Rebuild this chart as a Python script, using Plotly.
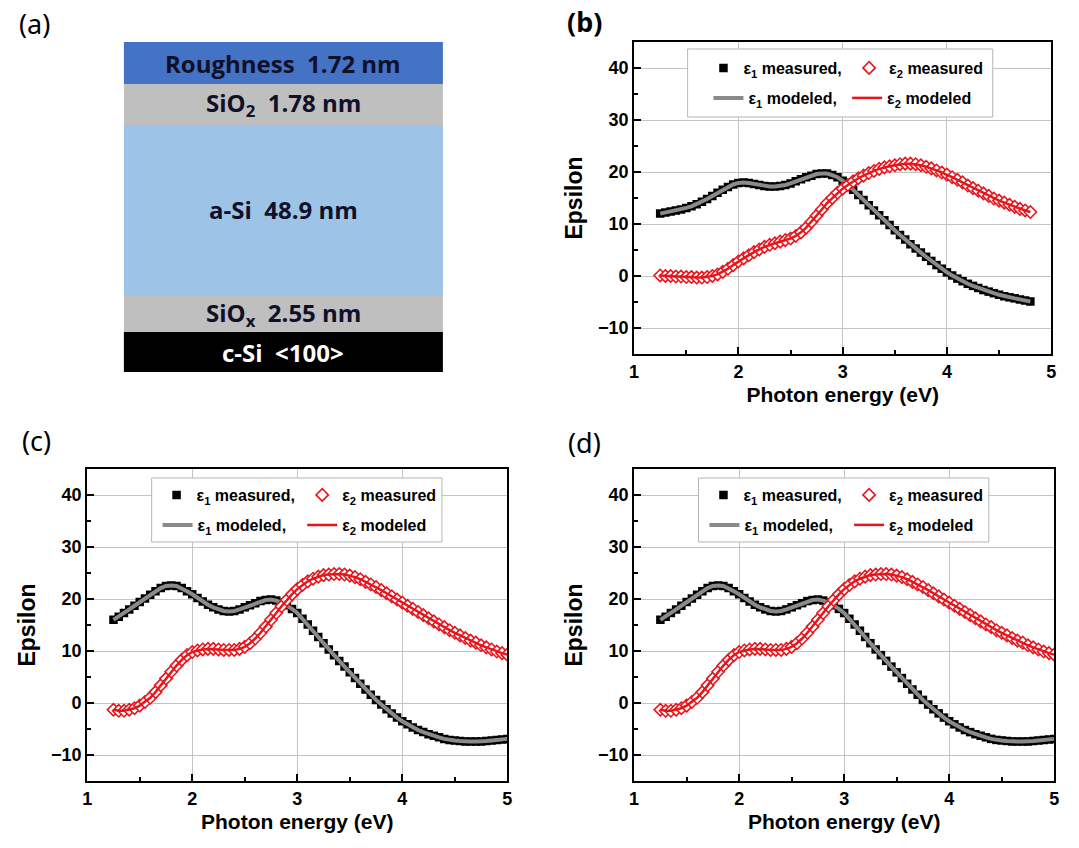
import plotly.graph_objects as go

# ---------------- data ----------------
energy_b = [1.25, 1.30, 1.35, 1.40, 1.45, 1.50, 1.55, 1.60, 1.65, 1.70,
            1.75, 1.80, 1.85, 1.90, 1.95, 2.00, 2.05, 2.10, 2.15, 2.20,
            2.25, 2.30, 2.35, 2.40, 2.45, 2.50, 2.55, 2.60, 2.65, 2.70,
            2.75, 2.80, 2.85, 2.90, 2.95, 3.00, 3.05, 3.10, 3.15, 3.20,
            3.25, 3.30, 3.35, 3.40, 3.45, 3.50, 3.55, 3.60, 3.65, 3.70,
            3.75, 3.80, 3.85, 3.90, 3.95, 4.00, 4.05, 4.10, 4.15, 4.20,
            4.25, 4.30, 4.35, 4.40, 4.45, 4.50, 4.55, 4.60, 4.65, 4.70,
            4.75, 4.80]
eps1_b = [12.0, 12.2, 12.4, 12.6, 12.8, 13.1, 13.4, 13.8, 14.3, 14.8,
          15.4, 16.0, 16.6, 17.1, 17.6, 17.9, 18.0, 17.9, 17.7, 17.5,
          17.3, 17.2, 17.2, 17.3, 17.5, 17.8, 18.2, 18.6, 19.0, 19.3,
          19.6, 19.7, 19.7, 19.4, 19.0, 18.3, 17.5, 16.6, 15.6, 14.6,
          13.6, 12.6, 11.7, 10.7, 9.8, 8.8, 7.9, 7.0, 6.1, 5.3,
          4.5, 3.7, 2.9, 2.1, 1.4, 0.7, 0.1, -0.5, -1.0, -1.5,
          -1.9, -2.3, -2.7, -3.0, -3.3, -3.6, -3.9, -4.1, -4.3, -4.5,
          -4.7, -4.9]
eps2_b = [0.1, 0.0, 0.0, -0.1, -0.1, -0.2, -0.2, -0.3, -0.3, -0.2,
          0.0, 0.3, 0.8, 1.4, 2.1, 2.8, 3.4, 4.0, 4.6, 5.1,
          5.6, 6.0, 6.3, 6.6, 6.9, 7.2, 7.7, 8.4, 9.3, 10.4,
          11.6, 12.8, 14.0, 15.0, 16.0, 16.8, 17.5, 18.2, 18.8, 19.3,
          19.8, 20.2, 20.6, 20.9, 21.1, 21.3, 21.5, 21.6, 21.6, 21.5,
          21.3, 21.0, 20.7, 20.3, 19.9, 19.5, 19.0, 18.5, 18.0, 17.4,
          16.9, 16.4, 15.9, 15.4, 14.9, 14.5, 14.1, 13.7, 13.3, 12.9,
          12.6, 12.3]

energy_c = [1.25, 1.30, 1.35, 1.40, 1.45, 1.50, 1.55, 1.60, 1.65, 1.70,
            1.75, 1.80, 1.85, 1.90, 1.95, 2.00, 2.05, 2.10, 2.15, 2.20,
            2.25, 2.30, 2.35, 2.40, 2.45, 2.50, 2.55, 2.60, 2.65, 2.70,
            2.75, 2.80, 2.85, 2.90, 2.95, 3.00, 3.05, 3.10, 3.15, 3.20,
            3.25, 3.30, 3.35, 3.40, 3.45, 3.50, 3.55, 3.60, 3.65, 3.70,
            3.75, 3.80, 3.85, 3.90, 3.95, 4.00, 4.05, 4.10, 4.15, 4.20,
            4.25, 4.30, 4.35, 4.40, 4.45, 4.50, 4.55, 4.60, 4.65, 4.70,
            4.75, 4.80, 4.85, 4.90, 4.95, 5.00]
eps1_c = [16.0, 16.6, 17.3, 18.0, 18.7, 19.4, 20.1, 20.8, 21.5, 22.1,
          22.5, 22.6, 22.5, 22.1, 21.5, 20.9, 20.2, 19.5, 18.9, 18.4,
          18.0, 17.7, 17.6, 17.7, 18.0, 18.4, 18.8, 19.2, 19.6, 19.8,
          19.9, 19.7, 19.3, 18.8, 18.1, 17.3, 16.2, 15.1, 13.9, 12.7,
          11.5, 10.3, 9.2, 8.1, 7.0, 5.9, 4.8, 3.7, 2.6, 1.6,
          0.6, -0.3, -1.2, -2.0, -2.8, -3.5, -4.1, -4.7, -5.2, -5.6,
          -6.0, -6.3, -6.6, -6.9, -7.1, -7.2, -7.3, -7.4, -7.4, -7.4,
          -7.4, -7.3, -7.2, -7.1, -7.0, -6.9]
eps2_c = [-1.3, -1.5, -1.5, -1.3, -1.0, -0.5, 0.2, 1.0, 2.1, 3.4,
          4.7, 6.0, 7.2, 8.3, 9.2, 9.8, 10.1, 10.3, 10.4, 10.4,
          10.3, 10.2, 10.2, 10.2, 10.4, 10.8, 11.5, 12.4, 13.5, 14.7,
          16.0, 17.3, 18.6, 19.8, 20.9, 21.9, 22.7, 23.4, 23.9, 24.3,
          24.6, 24.7, 24.8, 24.8, 24.7, 24.5, 24.2, 23.8, 23.3, 22.8,
          22.3, 21.7, 21.1, 20.5, 19.9, 19.3, 18.7, 18.1, 17.5, 16.9,
          16.3, 15.7, 15.1, 14.6, 14.0, 13.5, 13.0, 12.5, 12.0, 11.6,
          11.1, 10.7, 10.3, 9.9, 9.6, 9.3]

# panel (d) shows the same spectra as panel (c)
energy_d = list(energy_c)
eps1_d = list(eps1_c)
eps2_d = list(eps2_c)

layer_labels = ["Roughness  1.72 nm", "SiO<sub>2</sub>  1.78 nm", "a-Si  48.9 nm",
                "SiO<sub>x</sub>  2.55 nm", "c-Si  &lt;100&gt;"]
layer_colors = ["#4472C4", "#BFBFBF", "#9DC3E6", "#BFBFBF", "#000000"]
layer_text_colors = ["#101028", "#101028", "#101028", "#101028", "#FFFFFF"]

x_ticks = [1, 2, 3, 4, 5]
y_ticks = [-10, 0, 10, 20, 30, 40]

legend_names = ["<b>ε<sub>1</sub> measured,</b>", "<b>ε<sub>1</sub> modeled,</b>",
                "<b>ε<sub>2</sub> measured</b>", "<b>ε<sub>2</sub> modeled</b>"]

# ---------------- layout helpers ----------------
W, H = 1079, 848
def px(x):
    return x / W
def py(y):
    return 1 - y / H

FONT = "Liberation Sans, Arial, sans-serif"

fig = go.Figure()

panels = [
    # name, axis suffix, data, plot box (px), legend box (px), legend text starts, legend rows y
    ("b", "", energy_b, eps1_b, eps2_b, (635, 1056, 42, 354), (689, 997, 49, 117),
     (745, 892, 750, 890), (68, 98), 1),
    ("c", "2", energy_c, eps1_c, eps2_c, (83, 507, 469, 781), (148, 441, 478, 542),
     (193, 340, 194, 340), (495, 525), 5),
    ("d", "3", energy_d, eps1_d, eps2_d, (635, 1059, 469, 781), (700, 993, 478, 542),
     (745, 892, 746, 892), (495, 525), 9),
]

shapes = []
annotations = []
legends = {}

for name, sfx, en, e1, e2, box, lbox, ltext, lrows, lidx in panels:
    xa = "x" + sfx
    ya = "y" + sfx
    lg = ["legend" if lidx + k == 1 else "legend%d" % (lidx + k) for k in range(4)]
    # eps1 measured
    fig.add_trace(go.Scatter(x=en, y=e1, mode="markers", xaxis=xa, yaxis=ya,
                             marker=dict(symbol="square", size=8.5, color="black",
                                         line=dict(width=0)),
                             name=legend_names[0], legend=lg[0], showlegend=True))
    # eps1 modeled
    fig.add_trace(go.Scatter(x=en, y=e1, mode="lines", xaxis=xa, yaxis=ya,
                             line=dict(color="#8a8a8a", width=4),
                             name=legend_names[1], legend=lg[1], showlegend=True))
    # eps2 measured
    fig.add_trace(go.Scatter(x=en, y=e2, mode="markers", xaxis=xa, yaxis=ya,
                             marker=dict(symbol="diamond", size=9.5, color="white",
                                         line=dict(color="#E8141B", width=1.6)),
                             name=legend_names[2], legend=lg[2], showlegend=True))
    # eps2 modeled
    fig.add_trace(go.Scatter(x=en, y=e2, mode="lines", xaxis=xa, yaxis=ya,
                             line=dict(color="#E8141B", width=2.5),
                             name=legend_names[3], legend=lg[3], showlegend=True))

    x0, x1, y0, y1 = box
    axis_common = dict(showline=True, linewidth=2, linecolor="black", mirror=True,
                       ticks="inside", ticklen=7, tickwidth=2, tickcolor="black",
                       showgrid=True, gridcolor="#c4c4c4", gridwidth=1, zeroline=False,
                       tickfont=dict(family=FONT, size=18, color="black", weight="bold"))
    fig.update_layout(**{
        "xaxis" + sfx: dict(axis_common, domain=[px(x0), px(x1)], range=[1, 5],
                            tickvals=x_ticks, anchor=ya,
                            minor=dict(ticks="inside", ticklen=4, tickwidth=1.5,
                                       tickcolor="black", dtick=0.5, tick0=1, showgrid=False),
                            title=dict(text="<b>Photon energy (eV)</b>", standoff=7,
                                       font=dict(family=FONT, size=21, color="black"))),
        "yaxis" + sfx: dict(axis_common, domain=[py(y1), py(y0)], range=[-15, 45],
                            tickvals=y_ticks, anchor=xa,
                            minor=dict(ticks="inside", ticklen=4, tickwidth=1.5,
                                       tickcolor="black", dtick=5, tick0=0, showgrid=False),
                            title=dict(text="<b>Epsilon</b>", standoff=9,
                                       font=dict(family=FONT, size=23, color="black"))),
    })

    lx0, lx1, ly0, ly1 = lbox
    shapes.append(dict(type="rect", xref="paper", yref="paper", layer="above",
                       x0=px(lx0), x1=px(lx1), y0=py(ly1), y1=py(ly0),
                       fillcolor="white", line=dict(color="#b5b5b5", width=1)))
    t1, t2, t3, t4 = ltext
    r1, r2 = lrows
    for k, (tx, ty) in enumerate([(t1, r1), (t3, r2), (t2, r1), (t4, r2)]):
        legends[lg[k]] = dict(x=px(tx - 40), y=py(ty), xanchor="left", yanchor="middle",
                              orientation="h", bgcolor="rgba(0,0,0,0)", borderwidth=0,
                              itemwidth=30, tracegroupgap=0, visible=True,
                              font=dict(family=FONT, size=16, color="black"))

# ---------------- panel (a): layer stack schematic ----------------
stack_x0, stack_x1 = 120, 442
stack_bounds = [42, 84, 125, 295, 332, 372]
for i, lab in enumerate(layer_labels):
    ya0, ya1 = stack_bounds[i], stack_bounds[i + 1]
    shapes.append(dict(type="rect", xref="paper", yref="paper", layer="below",
                       x0=px(stack_x0), x1=px(stack_x1), y0=py(ya1), y1=py(ya0),
                       fillcolor=layer_colors[i], line=dict(width=0)))
    annotations.append(dict(xref="paper", yref="paper", x=px((stack_x0 + stack_x1) / 2),
                            y=py((ya0 + ya1) / 2), text="<b>%s</b>" % lab, showarrow=False,
                            xanchor="center", yanchor="middle",
                            font=dict(family="Open Sans, Noto Sans, sans-serif", size=24,
                                      color=layer_text_colors[i])))

# panel letters
for lab, x, y, bold in [("(a)", 30, 24, False), ("(b)", 585, 22, True),
                        ("(c)", 32, 441, False), ("(d)", 585, 442, False)]:
    annotations.append(dict(xref="paper", yref="paper", x=px(x), y=py(y),
                            text="<b>%s</b>" % lab if bold else lab, showarrow=False,
                            xanchor="center", yanchor="middle",
                            font=dict(family="Noto Sans, Open Sans, sans-serif", size=27,
                                      color="black")))

fig.update_layout(width=W, height=H, margin=dict(l=0, r=0, t=0, b=0),
                  paper_bgcolor="white", plot_bgcolor="white", showlegend=True,
                  shapes=shapes, annotations=annotations, **legends)

fig.write_html("out.html")
